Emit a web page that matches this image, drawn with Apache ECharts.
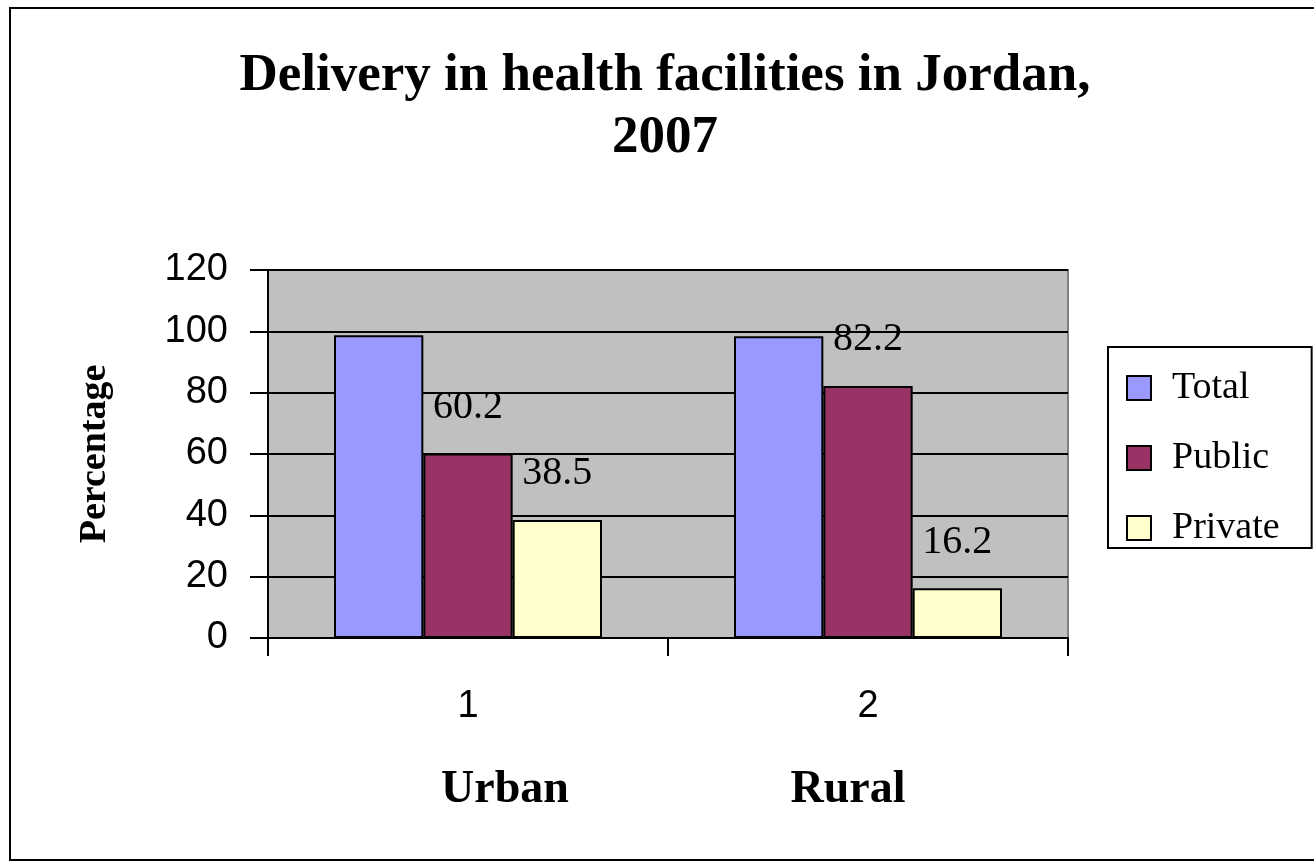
<!DOCTYPE html>
<html lang="en">
<head>
  <meta charset="UTF-8">
  <title>Delivery in health facilities in Jordan, 2007</title>
  <style>
    html, body { margin: 0; padding: 0; background: #fff; }
    #chart { width: 1314px; height: 864px; }
  </style>
  <script src="https://cdn.jsdelivr.net/npm/echarts@6/dist/echarts.min.js"></script>
</head>
<body>
  <div id="chart"></div>
  <script>
    // data
    var categories = ['1', '2'];
    var categoryNames = ['Urban', 'Rural'];
    var totalValues = [98.7, 98.4];
    var publicValues = [60.2, 82.2];
    var privateValues = [38.5, 16.2];
    var seriesNames = ['Total', 'Public', 'Private'];
    var seriesColors = ['#9999FF', '#993366', '#FFFFCC'];

    var serif = '"Liberation Serif", "Times New Roman", serif';
    var sans = '"Liberation Sans", Arial, sans-serif';

    var myChart = echarts.init(document.getElementById('chart'));

    function barSeries(i, data, showLabel) {
      return {
        name: seriesNames[i],
        type: 'bar',
        data: data,
        barGap: '0%',
        barCategoryGap: '33%',
        itemStyle: { color: seriesColors[i], borderColor: '#000', borderWidth: 2 },
        label: {
          show: showLabel,
          position: 'top',
          distance: 26,
          color: '#000',
          fontFamily: serif,
          fontSize: 40
        }
      };
    }

    var catTitle = { fontFamily: serif, fontWeight: 'bold', fontSize: 46, color: '#000' };

    var option = {
      backgroundColor: '#fff',
      animation: false,
      title: [{
        text: 'Delivery in health facilities in Jordan,\n2007',
        left: 665,
        top: 45,
        padding: 0,
        textAlign: 'center',
        textStyle: { fontFamily: serif, fontWeight: 'bold', fontSize: 53, lineHeight: 62, color: '#000', align: 'center' }
      }, {
        text: categoryNames[0],
        left: 500, top: 762, textAlign: 'center',
        textStyle: catTitle
      }, {
        text: categoryNames[1],
        left: 843, top: 762, textAlign: 'center',
        textStyle: catTitle
      }],
      graphic: [{
        type: 'rect',
        shape: { x: 10, y: 8, width: 1320, height: 852 },
        style: { fill: 'none', stroke: '#000', lineWidth: 2 },
        silent: true
      }],
      legend: {
        orient: 'vertical',
        left: 1108,
        top: 347,
        padding: [21, 32, 0, 18],
        itemGap: 30,
        itemWidth: 24,
        itemHeight: 24,
        borderColor: '#000',
        borderWidth: 2,
        icon: 'rect',
        itemStyle: { borderColor: '#000', borderWidth: 2 },
        textStyle: { fontFamily: serif, fontSize: 38, lineHeight: 40, color: '#000', padding: [0, 0, 0, 16] },
        data: seriesNames
      },
      grid: { left: 268, top: 270, right: 246, bottom: 226, show: true, backgroundColor: '#C0C0C0', borderColor: '#808080', borderWidth: 2 },
      xAxis: {
        type: 'category',
        data: categories,
        axisLine: { lineStyle: { color: '#000', width: 2 } },
        axisTick: { show: true, length: 18, lineStyle: { color: '#000', width: 2 } },
        axisLabel: { margin: 50, fontFamily: sans, fontSize: 38, color: '#000' }
      },
      yAxis: {
        type: 'value',
        min: 0,
        max: 120,
        interval: 20,
        name: 'Percentage',
        nameLocation: 'middle',
        nameGap: 154,
        nameTextStyle: { fontFamily: serif, fontWeight: 'bold', fontSize: 38, color: '#000' },
        axisLine: { show: true, lineStyle: { color: '#000', width: 2 } },
        axisTick: { show: true, length: 18, lineStyle: { color: '#000', width: 2 } },
        axisLabel: { margin: 40, fontFamily: sans, fontSize: 38, color: '#000' },
        splitLine: { lineStyle: { color: '#000', width: 2 } }
      },
      series: [
        barSeries(0, totalValues, false),
        barSeries(1, publicValues, true),
        barSeries(2, privateValues, true)
      ]
    };

    myChart.setOption(option);
  </script>
</body>
</html>
